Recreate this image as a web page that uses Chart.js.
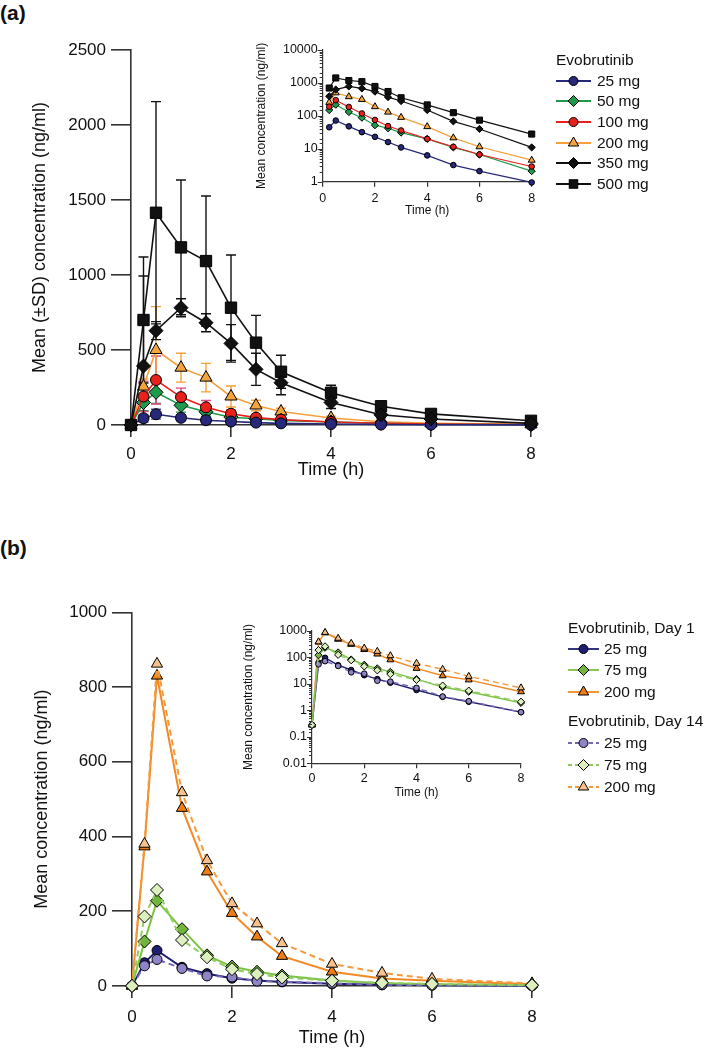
<!DOCTYPE html>
<html lang="en">
<head>
<meta charset="UTF-8">
<title>Evobrutinib concentration</title>
<script src="https://cdn.jsdelivr.net/npm/chart.js"></script>
<style>
  body { margin: 0; width: 709px; height: 1058px; position: relative; background: #fff; overflow: hidden;
         font-family: "Liberation Sans", Arial, Helvetica, sans-serif; color: #111; }
  canvas { position: absolute; }
  .panel { position: absolute; left: 0; font-weight: bold; font-size: 21px; line-height: 24px; }
  .legend { position: absolute; font-size: 15.5px; }
  .legend .row { display: flex; align-items: center; white-space: nowrap; }
  .legend svg { display: block; }
</style>
</head>
<body>
  <div class="panel" style="top:1px">(a)</div>
  <div class="panel" style="top:536px">(b)</div>

  <canvas id="mainA" width="560" height="500" style="left:0;top:0"></canvas>
  <canvas id="insetA" width="320" height="210" style="left:230px;top:20px"></canvas>
  <canvas id="mainB" width="560" height="518" style="left:0;top:540px"></canvas>
  <canvas id="insetB" width="320" height="205" style="left:220px;top:600px"></canvas>

  <div id="legendA" class="legend" style="left:556px;top:50px"></div>
  <div id="legendB" class="legend" style="left:568px;top:617px"></div>

  <script>
    // ---- panel (a): single doses, mean (SD)
    const timesA = [0, 0.25, 0.5, 1, 1.5, 2, 2.5, 3, 4, 5, 6, 8];
    const dosesA = ['25 mg', '50 mg', '100 mg', '200 mg', '350 mg', '500 mg'];
    const concA25  = [0, 45, 72, 48, 32, 23, 16, 11, 6.3, 3.2, 2.1, 0.95];
    const concA50  = [0, 150, 218, 131, 88, 52, 42, 31, 20, 11, 6.7, 2.1];
    const concA100 = [0, 190, 300, 186, 118, 75, 49, 36, 20, 11.5, 6.7, 2.9];
    const concA200 = [0, 256, 500, 382, 316, 190, 130, 90, 47, 21.5, 11.5, 4.5];
    const concA350 = [0, 393, 629, 782, 682, 544, 371, 282, 150, 68, 40, 11];
    const concA500 = [0, 700, 1415, 1184, 1093, 782, 549, 355, 215, 125, 74, 28];
    const sdA25  = [0, 25, 33, 20, 15, 10, 8, 6, 4, 2, 1, 0.5];
    const sdA50  = [0, 55, 75, 45, 30, 20, 15, 12, 8, 5, 3, 1];
    const sdA100 = [0, 100, 160, 60, 45, 25, 15, 12, 8, 5, 3, 1];
    const sdA200 = [0, 50, 289, 96, 95, 70, 35, 22, 12, 6, 4, 2];
    const sdA350 = [0, 600, 60, 60, 60, 125, 107, 80, 40, 20, 12, 5];
    const sdA500 = [0, 420, 741, 449, 434, 351, 182, 110, 50, 25, 15, 8];

    // ---- panel (b): day 1 and day 14, mean
    const timesB = [0, 0.25, 0.5, 1, 1.5, 2, 2.5, 3, 4, 5, 6, 8];
    const dosesB = ['25 mg', '75 mg', '200 mg'];
    const day1_25   = [0.28, 62, 95, 50, 33, 21, 15, 11, 5.8, 3.2, 2.1, 0.85];
    const day1_75   = [0.28, 119, 228, 152, 82, 52, 38, 28, 15, 7.5, 5, 1.9];
    const day1_200  = [0.28, 373, 830, 476, 306, 195, 132, 80, 38, 20, 14, 5];
    const day14_25  = [0.28, 54, 71, 47, 27, 24, 13, 12, 7, 3.3, 2.2, 0.85];
    const day14_75  = [0.28, 186, 257, 123, 77, 45, 32, 23, 14, 8.5, 5.5, 2.1];
    const day14_200 = [0.28, 380, 862, 518, 336, 221, 167, 114, 59, 35, 19, 7];

    Chart.defaults.font.family = '"Liberation Sans", Arial, Helvetica, sans-serif';
    Chart.defaults.color = '#111';
    const axisColor = '#333';

    const seriesA = [
      { label: dosesA[0], data: concA25,  sd: sdA25,  line: '#28287a', fill: '#28287a', bar: '#4d4da3', shape: 'circle',   order: 2 },
      { label: dosesA[1], data: concA50,  sd: sdA50,  line: '#1f9a4b', fill: '#1f9a4b', bar: '#1f9a4b', shape: 'rectRot',  order: 4 },
      { label: dosesA[2], data: concA100, sd: sdA100, line: '#e8211b', fill: '#e8211b', bar: '#e2457f', shape: 'circle',   order: 3 },
      { label: dosesA[3], data: concA200, sd: sdA200, line: '#f5a03a', fill: '#f5a33c', bar: '#f5a03a', shape: 'triangle', order: 5 },
      { label: dosesA[4], data: concA350, sd: sdA350, line: '#111',    fill: '#111',    bar: '#111',    shape: 'rectRot',  order: 0 },
      { label: dosesA[5], data: concA500, sd: sdA500, line: '#111',    fill: '#111',    bar: '#111',    shape: 'rect',     order: 1 }
    ];
    const seriesB = [
      { label: dosesB[0], data: day1_25,   line: '#1e1e72', fill: '#1e1e72', shape: 'circle',   dash: [],     order: 3 },
      { label: dosesB[1], data: day1_75,   line: '#7cc243', fill: '#72b53c', shape: 'rectRot',  dash: [],     order: 2 },
      { label: dosesB[2], data: day1_200,  line: '#f28a24', fill: '#ef7d14', shape: 'triangle', dash: [],     order: 5 },
      { label: dosesB[0], data: day14_25,  line: '#7567b5', fill: '#8e84c6', shape: 'circle',   dash: [6, 4], order: 1 },
      { label: dosesB[1], data: day14_75,  line: '#8fcb5e', fill: '#dcefbf', shape: 'rectRot',  dash: [6, 4], order: 0 },
      { label: dosesB[2], data: day14_200, line: '#f59a3c', fill: '#f6c18c', shape: 'triangle', dash: [6, 4], order: 4 }
    ];

    const bigMarker   = { circle: 5.5, rectRot: 7, triangle: 7, rect: 8 };
    const midMarker   = { circle: 5, rectRot: 6.5, triangle: 6.5, rect: 7.5 };
    const smallMarker = { circle: 2.8, rectRot: 3.6, triangle: 4, rect: 4.3 };

    function isPow10(v) {
      const l = Math.log10(v);
      return Math.abs(l - Math.round(l)) < 1e-6;
    }

    function toDatasets(series, times, sizes, lineWidth, logScale) {
      return series.map(s => ({
        label: s.label,
        data: times.map((t, i) => ({ x: t, y: (logScale && !(s.data[i] > 0)) ? null : s.data[i] })),
        sd: logScale ? null : s.sd,
        barColor: s.bar,
        borderColor: s.line,
        borderWidth: lineWidth,
        borderDash: s.dash || [],
        backgroundColor: s.fill,
        pointStyle: s.shape,
        pointRadius: sizes[s.shape],
        pointBackgroundColor: s.fill,
        pointBorderColor: '#000',
        pointBorderWidth: 1,
        tension: 0,
        clip: false,
        order: s.order
      }));
    }

    // mean +/- SD bars, drawn under the markers
    const errorBars = {
      id: 'errorBars',
      beforeDatasetsDraw(chart) {
        const { ctx, chartArea, scales: { x, y } } = chart;
        ctx.save();
        ctx.beginPath();
        ctx.rect(chartArea.left, chartArea.top - 20, chartArea.width + 10, chartArea.height + 20);
        ctx.clip();
        chart.data.datasets.forEach(ds => {
          if (!ds.sd) return;
          ctx.strokeStyle = ds.barColor;
          ctx.lineWidth = 1.4;
          ds.data.forEach((p, j) => {
            const s = ds.sd[j];
            if (!s) return;
            const px = x.getPixelForValue(p.x);
            const hi = y.getPixelForValue(p.y + s);
            const lo = y.getPixelForValue(p.y - s);
            ctx.beginPath();
            ctx.moveTo(px, hi); ctx.lineTo(px, lo);
            ctx.moveTo(px - 5, hi); ctx.lineTo(px + 5, hi);
            ctx.moveTo(px - 5, lo); ctx.lineTo(px + 5, lo);
            ctx.stroke();
          });
        });
        ctx.restore();
      }
    };

    // short minor / longer major ticks on the log axes
    const logTicks = {
      id: 'logTicks',
      afterDraw(chart) {
        const y = chart.scales.y;
        if (y.type !== 'logarithmic') return;
        const ctx = chart.ctx;
        ctx.save();
        ctx.strokeStyle = axisColor;
        ctx.lineWidth = 1;
        y.ticks.forEach(t => {
          const p = Math.round(y.getPixelForValue(t.value)) + 0.5;
          const len = isPow10(t.value) ? 5 : 3;
          ctx.beginPath();
          ctx.moveTo(y.right - len, p);
          ctx.lineTo(y.right, p);
          ctx.stroke();
        });
        ctx.restore();
      }
    };

    function xAxis(o) {
      return {
        type: 'linear', min: 0, max: 8,
        afterFit: s => { s.height = o.height; },
        ticks: { stepSize: 2, font: { size: o.tickSize }, padding: o.tickPad, maxRotation: 0, callback: v => String(v) },
        grid: { drawOnChartArea: false, tickLength: o.tickLen, color: axisColor, lineWidth: o.lw },
        border: { color: axisColor, width: o.lw },
        title: { display: true, text: 'Time (h)', font: { size: o.titleSize }, padding: { top: 0, bottom: o.titlePad } }
      };
    }

    function yLinear(o) {
      return {
        type: 'linear', min: 0, max: o.max,
        afterFit: s => { s.width = o.width; },
        ticks: { stepSize: o.step, font: { size: o.tickSize }, padding: 5, callback: v => String(v) },
        grid: { drawOnChartArea: false, tickLength: 20, color: axisColor, lineWidth: o.lw },
        border: { color: axisColor, width: o.lw },
        title: { display: true, text: o.title, font: { size: o.titleSize }, padding: { top: o.titlePad, bottom: 0 } }
      };
    }

    function yLog(o) {
      return {
        type: 'logarithmic', min: o.min, max: o.max,
        afterFit: s => { s.width = o.width; },
        ticks: {
          autoSkip: false, font: { size: o.tickSize }, padding: 5,
          callback: v => isPow10(v) ? String(Number(v.toPrecision(1))) : ''
        },
        grid: { drawOnChartArea: false, drawTicks: false },
        border: { color: axisColor, width: 1.2 },
        title: { display: true, text: 'Mean concentration (ng/ml)', font: { size: o.titleSize }, padding: { top: o.titlePad, bottom: 0 } }
      };
    }

    function makeChart(id, datasets, scales, padding, plugins) {
      return new Chart(document.getElementById(id), {
        type: 'line',
        data: { datasets },
        options: {
          responsive: false,
          animation: false,
          events: [],
          layout: { padding },
          scales,
          plugins: { legend: { display: false }, tooltip: { enabled: false } }
        },
        plugins: plugins || []
      });
    }

    // panel (a)
    makeChart('mainA', toDatasets(seriesA, timesA, bigMarker, 1.6, false), {
      x: xAxis({ height: 75, tickSize: 17, tickPad: 7, tickLen: 12, lw: 1.6, titleSize: 18, titlePad: 19 }),
      y: yLinear({ max: 2500, step: 500, width: 131, tickSize: 17, lw: 1.6, title: 'Mean (\u00b1SD) concentration (ng/ml)', titleSize: 18, titlePad: 29 })
    }, { left: 0, top: 50, right: 29, bottom: 0 }, [errorBars]);

    makeChart('insetA', toDatasets(seriesA, timesA, smallMarker, 1.2, true), {
      x: xAxis({ height: 48.3, tickSize: 12.5, tickPad: 4, tickLen: 5, lw: 1.2, titleSize: 12, titlePad: 12 }),
      y: yLog({ min: 1, max: 10000, width: 92.7, tickSize: 12.5, titleSize: 12, titlePad: 24 })
    }, { left: 0, top: 30, right: 18.3, bottom: 0 }, [logTicks]);

    // panel (b)
    makeChart('mainB', toDatasets(seriesB, timesB, midMarker, 2, false), {
      x: xAxis({ height: 72, tickSize: 17, tickPad: 9, tickLen: 12, lw: 1.6, titleSize: 18, titlePad: 9 }),
      y: yLinear({ max: 1000, step: 200, width: 132, tickSize: 17, lw: 1.6, title: 'Mean concentration (ng/ml)', titleSize: 18, titlePad: 31 })
    }, { left: 0, top: 72.3, right: 28, bottom: 0 });

    makeChart('insetB', toDatasets(seriesB, timesB, smallMarker, 1.4, true), {
      x: xAxis({ height: 41.7, tickSize: 12.5, tickPad: 3, tickLen: 5, lw: 1.2, titleSize: 12, titlePad: 5 }),
      y: yLog({ min: 0.01, max: 1000, width: 92, tickSize: 12.5, titleSize: 12, titlePad: 21 })
    }, { left: 0, top: 30.7, right: 19, bottom: 0 }, [logTicks]);

    // legends
    function marker(shape, fill, r, cx, cy) {
      const st = 'stroke="#000" stroke-width="1"';
      if (shape === 'circle') return `<circle cx="${cx}" cy="${cy}" r="${r}" fill="${fill}" ${st}/>`;
      if (shape === 'rectRot') return `<polygon points="${cx - r},${cy} ${cx},${cy - r} ${cx + r},${cy} ${cx},${cy + r}" fill="${fill}" ${st}/>`;
      if (shape === 'rect') {
        const h = r * Math.SQRT1_2;
        return `<rect x="${cx - h}" y="${cy - h}" width="${2 * h}" height="${2 * h}" fill="${fill}" ${st}/>`;
      }
      const w = r * 0.866;
      return `<polygon points="${cx},${cy - r} ${cx + w},${cy + r / 2} ${cx - w},${cy + r / 2}" fill="${fill}" ${st}/>`;
    }

    function legendRow(s, w, r, h, gap) {
      const dash = s.dash && s.dash.length ? 'stroke-dasharray="4 3"' : '';
      return `<div class="row" style="height:${h}px"><svg width="${w}" height="16">` +
        `<line x1="0" y1="8" x2="${w}" y2="8" stroke="${s.line}" stroke-width="1.8" ${dash}/>` +
        marker(s.shape, s.fill, r[s.shape], w / 2, 8) +
        `</svg><span style="margin-left:${gap}px">${s.label}</span></div>`;
    }

    const legR = { circle: 4.5, rectRot: 5.5, triangle: 6, rect: 6 };
    let htmlA = '<div class="row" style="height:20.6px">Evobrutinib</div>';
    seriesA.forEach(s => { htmlA += legendRow(s, 35, legR, 20.6, 6); });
    document.getElementById('legendA').innerHTML = htmlA;

    let htmlB = '<div class="row" style="height:21.3px">Evobrutinib, Day 1</div>';
    seriesB.slice(0, 3).forEach(s => { htmlB += legendRow(s, 31, legR, 21.3, 5); });
    htmlB += '<div class="row" style="height:21.3px;margin-top:8.5px">Evobrutinib, Day 14</div>';
    seriesB.slice(3).forEach(s => { htmlB += legendRow(s, 31, legR, 22, 5); });
    document.getElementById('legendB').innerHTML = htmlB;
  </script>
</body>
</html>
